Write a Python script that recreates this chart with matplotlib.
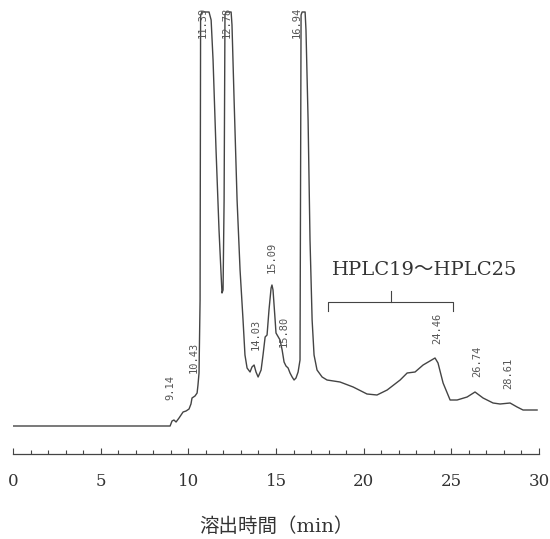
import matplotlib
matplotlib.use("Agg")
import matplotlib.pyplot as plt
from matplotlib.ticker import MultipleLocator

# chromatogram trace: time (min), detector signal (arbitrary units)
time_min = [0.00, 8.96, 9.07, 9.18, 9.30, 9.47, 9.70, 9.87, 10.04, 10.15, 10.21,
            10.38, 10.50, 10.55, 10.61, 10.67, 10.70, 10.78, 11.18, 11.30, 11.41,
            11.58, 11.75, 11.87, 11.92, 11.98, 12.04, 12.09, 12.15, 12.44, 12.49,
            12.61, 12.78, 12.95, 13.12, 13.23, 13.35, 13.52, 13.63, 13.75, 13.86,
            13.98, 14.15, 14.26, 14.38, 14.49, 14.60, 14.72, 14.77, 14.83, 14.95,
            15.00, 15.23, 15.35, 15.46, 15.57, 15.69, 15.80, 15.92, 16.03, 16.14,
            16.26, 16.37, 16.43, 16.49, 16.66, 16.71, 16.83, 16.94, 17.06, 17.17,
            17.34, 17.63, 17.91, 18.65, 19.40, 20.19, 20.76, 21.34, 22.08, 22.48,
            22.93, 23.39, 24.07, 24.24, 24.53, 24.93, 25.33, 25.90, 26.35, 26.81,
            27.38, 27.78, 28.35, 28.75, 29.09, 29.89]
signal = [0, 0, 5, 6, 4, 8, 14, 15, 17, 22, 28,
          30, 33, 41, 53, 126, 411, 414, 414, 406, 366,
          276, 196, 151, 133, 136, 226, 411, 414, 414, 401,
          326, 226, 156, 106, 71, 58, 54, 59, 61, 54,
          49, 56, 71, 89, 91, 116, 138, 141, 136, 106,
          93, 86, 76, 64, 60, 58, 53, 49, 46, 48,
          54, 66, 411, 414, 414, 396, 306, 186, 106, 71,
          56, 49, 46, 44, 39, 32, 31, 36, 46, 53,
          54, 61, 68, 63, 43, 26, 26, 29, 34, 28,
          23, 22, 23, 19, 16, 16]

# peak retention-time labels and where they are printed
peak_text = ["9.14", "10.43", "11.39", "12.78", "14.03", "15.09",
             "15.80", "16.94", "24.46", "26.74", "28.61"]
peak_text_t = [8.96, 10.33, 10.84, 12.21, 13.86, 14.77, 15.46, 16.20, 24.19, 26.47, 28.24]
peak_text_s = [39, 69, 404, 404, 92, 169, 95, 404, 98, 65, 53]

# fraction bracket
frac_label = "HPLC19〜HPLC25"
frac_start, frac_end = 17.97, 25.10

line_col = "#444444"

fig = plt.figure(figsize=(5.5, 5.39), dpi=100)
ax = fig.add_axes([13 / 550, 1 - 454 / 539, 526 / 550, 454 / 539])

ax.plot(time_min, signal, color=line_col, lw=1.0)

for txt, t, s in zip(peak_text, peak_text_t, peak_text_s):
    ax.text(t, s, txt, rotation=90, ha="center", va="center",
            family="DejaVu Sans Mono", fontsize=7.5, color="#555555")

# bracket under the fraction label
mid = (frac_start + frac_end) / 2
ax.plot([frac_start, frac_start, frac_end, frac_end], [115, 124, 124, 115],
        color=line_col, lw=0.8)
ax.plot([mid, mid], [124, 135], color=line_col, lw=0.8)
ax.text(23.5, 156, frac_label, ha="center", va="center", fontsize=14,
        family=["DejaVu Serif", "Noto Sans CJK JP"], color="#333333")

ax.set_xlim(0, 30)
ax.set_ylim(-28, 426)
for side in ["top", "left", "right"]:
    ax.spines[side].set_visible(False)
ax.spines["bottom"].set_color(line_col)
ax.spines["bottom"].set_linewidth(0.9)
ax.set_yticks([])
ax.xaxis.set_major_locator(MultipleLocator(5))
ax.xaxis.set_minor_locator(MultipleLocator(1))
ax.tick_params(axis="x", which="major", direction="in", length=4.5, width=0.8,
               color=line_col, pad=14)
ax.tick_params(axis="x", which="minor", direction="in", length=3, width=0.8,
               color=line_col)
for lab in ax.get_xticklabels():
    lab.set_family("DejaVu Serif")
    lab.set_fontsize(12)
    lab.set_color("#333333")

ax.set_xlabel("溶出時間（min）", family=["DejaVu Serif", "Noto Sans CJK JP"],
              fontsize=14, color="#333333", labelpad=19)

fig.savefig("out.png", dpi=100)
